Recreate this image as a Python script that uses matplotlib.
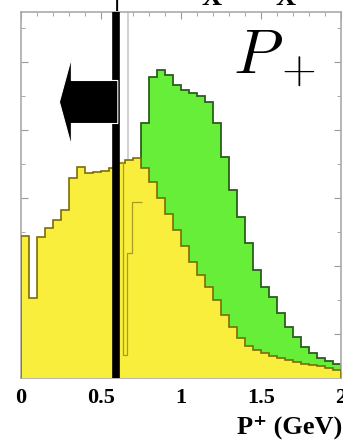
import numpy as np
import matplotlib
matplotlib.use("Agg")
import matplotlib.pyplot as plt
from matplotlib.patches import FancyArrow

plt.rcParams['mathtext.fontset'] = 'cm'

# P+ histogram, 40 bins of 0.05 GeV from 0 to 2 (arbitrary units)
bin_edges = np.linspace(0.0, 2.0, 41)

yellow_counts = [142, 80, 141, 150, 158, 168, 200, 211, 205, 206,
                 207, 210, 215, 218, 220, 210, 196, 180, 164, 148,
                 132, 116, 103, 91, 78, 63, 51, 40, 32, 28,
                 25, 22, 20, 18, 16, 14, 13, 12, 10, 8]

green_counts = [0, 0, 0, 0, 0, 0, 0, 0, 0, 0,
                0, 0, 0, 0, 0, 255, 301, 308, 303, 293,
                288, 285, 282, 276, 255, 221, 188, 161, 135, 108,
                91, 81, 65, 51, 41, 31, 25, 20, 17, 14]

# faint inner outline just above the cut
inner_edges = [0.61, 0.636, 0.66, 0.692, 0.754]
inner_counts = [216, 23, 125, 176]

cut_value = 0.595
ref_value = 0.667

xticks = [0, 0.5, 1, 1.5, 2]
xtick_labels = ["0", "0.5", "1", "1.5", "2"]

fig = plt.figure(figsize=(3.43, 4.45), dpi=100)
ax = fig.add_axes([21 / 343, 67 / 445, 320 / 343, 366 / 445])

ax.stairs(green_counts, bin_edges, fill=True, facecolor="#66ee38",
          edgecolor="#2b5e1c", linewidth=1.3, zorder=2)
ax.stairs(yellow_counts, bin_edges, fill=True, facecolor="#faee3c",
          edgecolor="#7d6d08", linewidth=1.2, zorder=3)
ax.stairs(inner_counts, inner_edges, baseline=None, color="#a99a20",
          linewidth=0.9, zorder=4)

ax.axvline(ref_value, color="#c8c8c8", linewidth=1.2, zorder=1)
ax.axvline(cut_value, color="black", linewidth=5.5, zorder=6)

arrow = FancyArrow(cut_value + 0.01, 276, -0.365, 0, width=43,
                   head_width=88, head_length=0.075,
                   length_includes_head=True, facecolor="black",
                   edgecolor="white", linewidth=0.8, zorder=7)
ax.add_patch(arrow)

ax.text(233 / 343, 1 - 73 / 445, r"$P_+$", transform=fig.transFigure,
        fontsize=46, ha="left", va="baseline")

ax.set_xlim(0, 2)
ax.set_ylim(0, 366)

ax.set_xticks(xticks)
ax.set_xticklabels(xtick_labels, fontfamily="Liberation Serif",
                   fontweight="bold", fontsize=16)
ax.set_xticks(np.arange(0, 2.01, 0.1), minor=True)
ax.set_yticks([44, 112, 180, 248, 316])
ax.set_yticks([10, 78, 146, 214, 282, 350], minor=True)
ax.set_yticklabels([])
ax.tick_params(axis="both", which="both", direction="in", color="#999999",
               top=True, right=True)
ax.tick_params(axis="both", which="major", length=5)
ax.tick_params(axis="both", which="minor", length=3)
ax.tick_params(axis="x", pad=7)
for s in ax.spines.values():
    s.set_color("#aaaaaa")
    s.set_linewidth(1.2)

fig.text(0.997, 1 - 427 / 445, "P\u207a (GeV)",
         family=["Liberation Serif", "DejaVu Serif"], fontweight="bold",
         fontsize=19, ha="right", va="center")

# bottoms of the cut-off title above the frame
for fx, s in [(117 / 343, "|"), (212 / 343, "X"), (286 / 343, "X")]:
    fig.text(fx, 1 - 5 / 445, s, fontfamily="Liberation Serif",
             fontweight="bold", fontsize=20, ha="center", va="baseline")

fig.savefig("out.png", dpi=100)
